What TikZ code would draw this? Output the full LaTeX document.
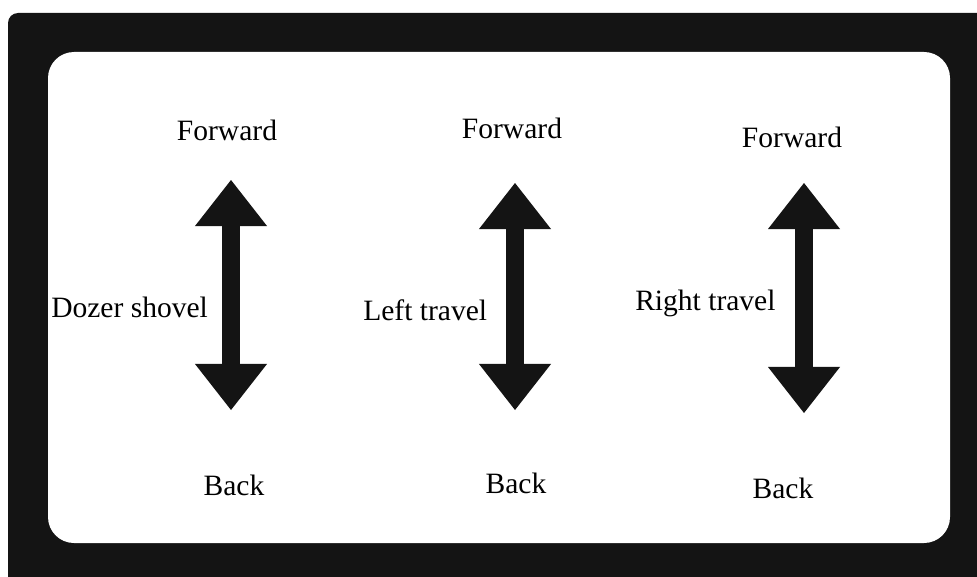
\documentclass[tikz,border=0pt]{standalone}
\usepackage{fontspec}
\setmainfont{Liberation Serif}
\usepackage{xcolor}
\usepackage{tikz}
\usetikzlibrary{positioning, calc, arrows.meta}

\definecolor{inkblack}{RGB}{20,20,20}

\tikzset{
    lbl/.style={inner sep=0pt, font=\fontsize{21}{25}\selectfont},
    bigarrow/.style={draw=inkblack, line width=0.45cm,
        {Triangle[length=1.15cm, width=1.8cm, line width=0pt]}-{Triangle[length=1.15cm, width=1.8cm, line width=0pt]}}
}

\begin{document}
\begin{tikzpicture}[x=0.025cm, y=-0.025cm]

    \useasboundingbox (0,0) rectangle (977,577);

    % --- Frame ---
    \fill[inkblack, rounded corners=0.25cm] (8,620) -- (8,13) -- (1000,13) -- (1000,620) -- cycle;
    \fill[white, rounded corners=0.65cm] (48,52) rectangle (950,543);

    % --- LEFT: Dozer shovel ---
    \node[lbl] (fwdA) at (227,130) {Forward};
    \node[lbl] (backA) at (234,485) {Back};
    \node[lbl, anchor=west] (labA) at (51,307) {Dozer shovel};
    \coordinate (tipA) at (231,180);
    \coordinate (tailA) at (231,410);
    \draw[bigarrow] (tipA) -- (tailA);

    % --- MIDDLE: Left travel ---
    \node[lbl] (fwdB) at (512,128) {Forward};
    \node[lbl] (backB) at (516,483) {Back};
    \node[lbl, anchor=west] (labB) at (363,310) {Left travel};
    \coordinate (tipB) at (515,183);
    \coordinate (tailB) at (515,410);
    \draw[bigarrow] (tipB) -- (tailB);

    % --- RIGHT: Right travel ---
    \node[lbl] (fwdC) at (792,137) {Forward};
    \node[lbl] (backC) at (783,488) {Back};
    \node[lbl, anchor=west] (labC) at (635,303) {Right travel};
    \coordinate (tipC) at (804,183);
    \coordinate (tailC) at (804,413);
    \draw[bigarrow] (tipC) -- (tailC);

\end{tikzpicture}
\end{document}
